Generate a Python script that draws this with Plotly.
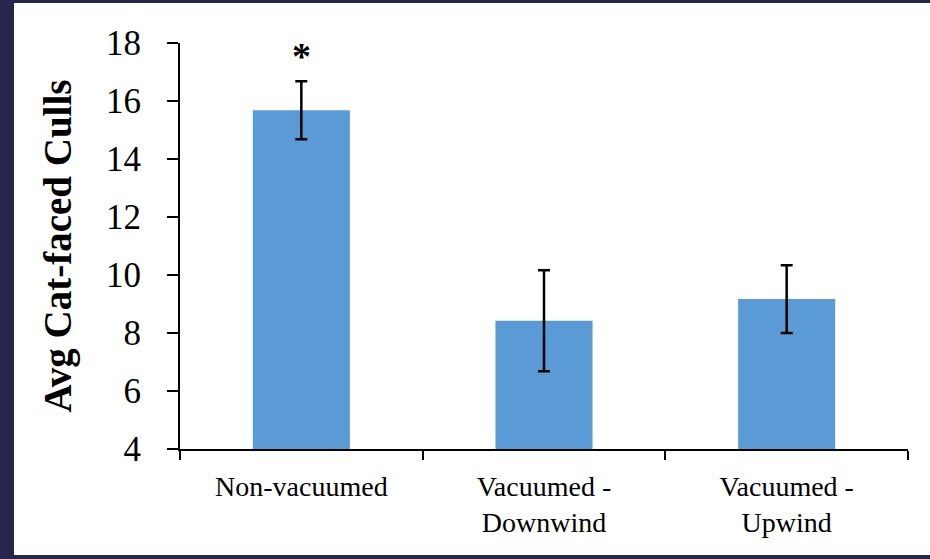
import plotly.graph_objects as go

categories = ["Non-vacuumed", "Vacuumed -<br>Downwind", "Vacuumed -<br>Upwind"]
means = [15.68, 8.42, 9.17]
errors = [1.0, 1.74, 1.17]
significance = ["*", "", ""]
y_ticks = [4, 6, 8, 10, 12, 14, 16, 18]

FONT = "Liberation Serif"
BAR = "#5b9bd5"
FRAME = "#26264d"

fig = go.Figure()
fig.add_trace(go.Bar(
    x=categories, y=means, width=0.4,
    marker=dict(color=BAR, line=dict(width=0)),
    error_y=dict(type="data", array=errors, visible=True,
                 color="#000000", thickness=2.5, width=6),
))

annotations = []
for c, m, e, s in zip(categories, means, errors, significance):
    if s:
        annotations.append(dict(x=c, y=m + e, xref="x", yref="y", text="<b>" + s + "</b>",
                                showarrow=False, yanchor="bottom", yshift=2,
                                font=dict(family=FONT, size=38, color="#000")))

# frame strips (paper coords relative to plot area 180..908 x 43..449 px)
def px_x(p):
    return (p - 180) / 728

def px_y(p):
    return (449 - p) / 406

frame = [
    (0, 0, 14, 559),     # left
    (0, 0, 930, 3),      # top
    (0, 555, 930, 559),  # bottom
]
shapes = [dict(type="rect", xref="paper", yref="paper", layer="above",
               x0=px_x(a), x1=px_x(c), y0=px_y(d), y1=px_y(b),
               fillcolor=FRAME, line=dict(width=0)) for a, b, c, d in frame]

fig.update_layout(
    width=930, height=559,
    margin=dict(l=180, r=22, t=43, b=110, autoexpand=False),
    paper_bgcolor="white", plot_bgcolor="white",
    showlegend=False, bargap=0.6,
    font=dict(family=FONT, color="#000"),
    annotations=annotations,
    shapes=shapes,
    xaxis=dict(type="category", showline=True, linecolor="#000", linewidth=2,
               ticks="outside", tickson="boundaries", ticklen=9, tickwidth=2,
               tickcolor="#000", showgrid=False, zeroline=False,
               tickfont=dict(family=FONT, size=28, color="#000"),
               ticklabelstandoff=11,
               automargin=False, range=[-0.5, 2.5]),
    yaxis=dict(range=[4, 18], tickvals=y_ticks, showline=True, linecolor="#000",
               linewidth=2, ticks="outside", ticklen=11, tickwidth=2,
               tickcolor="#000", showgrid=False, zeroline=False,
               tickfont=dict(family=FONT, size=35, color="#000"),
               ticklabelstandoff=19, automargin=False,
               title=dict(text="<b>Avg Cat-faced Culls</b>", standoff=22,
                          font=dict(family=FONT, size=39, color="#000"))),
)

fig.write_html("out.html", config={"displayModeBar": False},
               post_script="document.body.style.margin='0';document.body.style.padding='0';")
